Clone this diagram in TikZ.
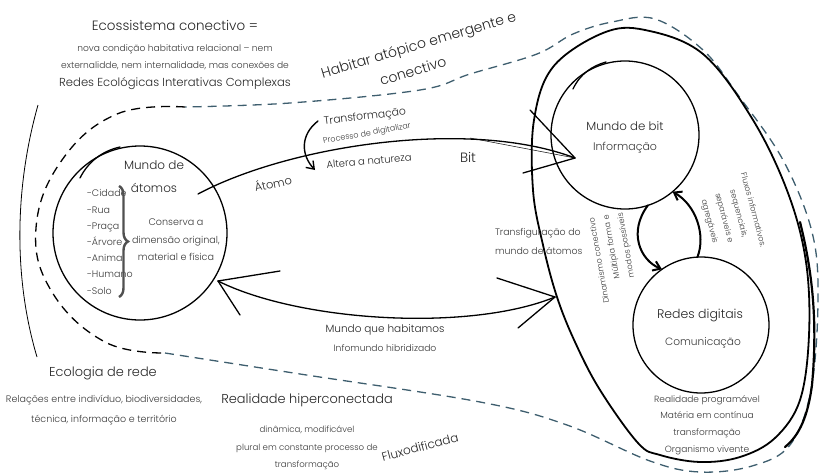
\documentclass[tikz,border=0pt]{standalone}
\usepackage{fontspec}
\IfFontExistsTF{Poppins Light}{\setmainfont{Poppins Light}}{\setmainfont{Poppins}}
\usetikzlibrary{decorations.pathreplacing,arrows.meta}
\definecolor{txt}{HTML}{262626}
\definecolor{txtb}{HTML}{3A3A3A}
\definecolor{dashc}{HTML}{3E5E6E}
\definecolor{bracec}{HTML}{505050}
\newcommand\fz[2]{\fontsize{#1}{#2}\selectfont}
\begin{document}
\begin{tikzpicture}[x=1pt,y=-1pt,
  every node/.style={inner sep=0pt,outer sep=0pt},
  lbl/.style={text=txt,align=center},
  sml/.style={text=txtb,align=center},
  bubble/.style={draw=black,circle,line width=1.3pt},
  ln/.style={draw=black,line width=1.3pt,line cap=round,line join=round},
  thk/.style={draw=black,line width=2pt,line cap=round,line join=round},
  dsh/.style={line width=1.3pt,dash pattern=on 9pt off 6pt},
  barb/.style={-{Straight Barb[length=7pt,width=10pt]}}
]
\useasboundingbox (0,0) rectangle (820,474);

% ---------- enclosing dashed loop ----------
\draw[dsh,draw=black] plot[smooth,tension=0.7] coordinates
  {(185,107) (117,114) (62,160) (36,228) (52,292) (105,342) (165,353)};
\draw[dsh,draw=dashc] plot[smooth,tension=0.6] coordinates
  {(165,353) (300,374) (480,402) (567,425) (650,461) (700,472) (752,466) (790,445) (811,390) (818,300) (812,232) (783,160) (738,95) (703,50) (655,19) (612,22) (573,34) (537,54) (470,74) (420,90) (290,103) (185,107)};

% thin outer arc at far left
\draw[draw=black,line width=0.8pt] (38,105) .. controls (14,190) and (14,280) .. (37,357);

% ---------- big solid loop on the right ----------
\draw[draw=black,line width=1.8pt] plot[smooth cycle,tension=0.6] coordinates
  {(533,190) (534,120) (553,67) (603,33) (645,30) (703,54) (753,120) (788,193) (806,262) (809,335) (800,400) (775,438) (740,457) (700,462) (660,455) (638,443) (600,390) (575,342) (557,297) (543,245)};
\draw[draw=black,line width=2.2pt,line cap=round] (800,222) .. controls (812,270) and (818,320) .. (812,385) .. controls (808,415) and (800,435) .. (785,447);

% ---------- circles ----------
\node[bubble] (atom) at (140,233) [minimum size=174pt] {};
\draw[ln] (80,178) .. controls (88,162) and (102,151) .. (120,147);
\node[bubble] (bit) at (625,135) [minimum size=148pt] {};
\draw[ln] (573,89) .. controls (580,74) and (592,66) .. (606,62);
\node[bubble] (redes) at (701,325) [minimum size=136pt] {};

% ---------- texts: title block ----------
\node[lbl,font=\fz{13.5}{16}] (title) at (175,25) {Ecossistema conectivo =};
\node[sml,font=\fz{9.1}{17}] (sub) at (175,57.5) {nova condição habitativa relacional – nem\\externalidde, nem internalidade, mas conexões de};
\node[lbl,font=\fz{11.6}{15}] (reic) at (175,84) {Redes Ecológicas Interativas Complexas};

\node[lbl,font=\fz{14}{16},rotate=16.5] (hab1) at (419,46) {Habitar atópico emergente e};
\node[lbl,font=\fz{14}{16},rotate=16.5] (hab2) at (413,71) {conectivo};

% ---------- mundo de átomos ----------
\node[lbl,font=\fz{12}{23}] (atomt) at (154,177) {Mundo de\\átomos};
\node[sml,font=\fz{9.5}{16.2},align=left,anchor=west] (list) at (87,242) {-Cidade\\-Rua\\-Praça\\-Árvore\\-Animal\\-Humano\\-Solo};
\draw[decorate,decoration={brace,amplitude=9pt,aspect=0.5},line width=2.4pt,draw=bracec] (119,186) -- (119,297);
\node[sml,font=\fz{9.6}{17.5}] (cons) at (176,240) {Conserva a\\dimensão original,\\material e física};

% ---------- top connector átomo -> bit ----------
\coordinate (a1) at (198,194);
\coordinate (b1) at (575,158);
\draw[ln] (a1) .. controls (290,145) and (470,118) .. (b1);
\draw[ln] (b1) -- (530,110);
\draw[ln] (b1) -- (523,173);
\draw[draw=black,line width=0.5pt] (470,138) -- (b1);
\node[lbl,font=\fz{11.4}{14},rotate=12] (atomo) at (273,183) {Átomo};
\node[lbl,font=\fz{10.8}{14},rotate=7] (transf) at (365,117) {Transformação};
\node[sml,font=\fz{8}{10},rotate=10] (proc) at (367,134) {Processo de digitalizar};
\node[lbl,font=\fz{10}{12},rotate=5] (altera) at (369,161) {Altera a natureza};
\node[lbl,font=\fz{13.5}{15}] (bittxt) at (468,157) {Bit};
\coordinate (c1) at (318,121);
\coordinate (c2) at (315,170);
\draw[thk,line width=1.4pt,barb] (c1) .. controls (300,135) and (301,155) .. (c2);

% ---------- bottom connector ----------
\coordinate (a2) at (218,281);
\coordinate (b2) at (555,297);
\draw[ln] (a2) .. controls (300,322) and (470,332) .. (b2);
\draw[ln] (a2) -- (280,271);
\draw[ln] (a2) -- (240,315);
\draw[ln] (b2) -- (497,278);
\draw[ln] (b2) -- (518,328);
\node[lbl,font=\fz{10.5}{13}] (mqh) at (385,330) {Mundo que habitamos};
\node[sml,font=\fz{9.2}{12}] (infom) at (385,348) {Infomundo hibridizado};

% ---------- right group ----------
\node[lbl,font=\fz{11.8}{14}] (bitt) at (625,126) {Mundo de bit};
\node[sml,font=\fz{11}{13}] (info) at (625,148) {Informação};
\node[lbl,font=\fz{12.5}{14}] (redt) at (700,315) {Redes digitais};
\node[sml,font=\fz{10.6}{13}] (comu) at (703,343) {Comunicação};
\draw[thk,barb] (bit.-72) .. controls (628,232) and (640,260) .. (redes.125);
\draw[thk,barb] (redes.93) .. controls (706,235) and (696,205) .. (bit.-50);

\node[sml,font=\fz{9.4}{19},align=left,anchor=west] (transfig) at (495,241.5) {Transfiguração do\\mundo de átomos};
\node[sml,font=\fz{8}{14.5},rotate=100,align=right] (dina) at (614,258) {Dinamismo conectivo\\Múltipla forma e\\modos possíveis};
\node[sml,font=\fz{8}{15},rotate=-75] (flux) at (731,216) {Fluxos informativos.\\sequenciais,\\separáveis e\\agregáveis};
\node[sml,font=\fz{9}{16.7}] (realp) at (707,425) {Realidade programável\\Matéria em contínua\\transformação\\Organismo vivente};

% ---------- bottom texts ----------
\node[lbl,font=\fz{12.9}{15}] (eco) at (103,373) {Ecologia de rede};
\node[sml,font=\fz{9.5}{20}] (rel) at (104,410) {Relações entre indivíduo, biodiversidades,\\técnica, informação e território};
\node[lbl,font=\fz{12.9}{15}] (rh) at (307,400) {Realidade hiperconectada};
\node[sml,font=\fz{8.6}{17.5}] (din) at (307,448) {dinâmica, modificável\\plural em constante processo de\\transformação};
\node[lbl,font=\fz{12}{14},rotate=15] (fluxo) at (420,447) {Fluxodificada};
\end{tikzpicture}
\end{document}
